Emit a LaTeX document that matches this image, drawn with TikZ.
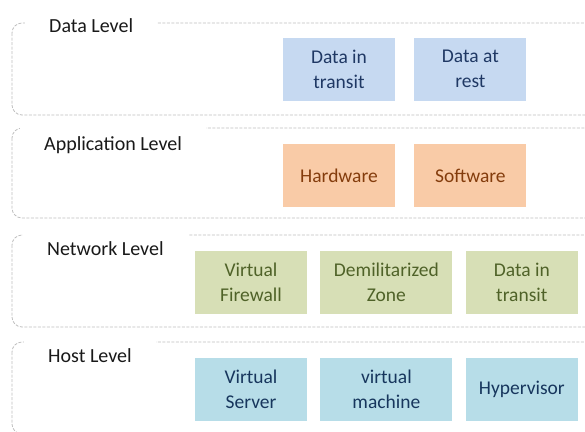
\documentclass[tikz,border=0pt]{standalone}
\usepackage{fontspec}
\setmainfont{Carlito}
\usepackage{xcolor}
\usetikzlibrary{positioning}

\definecolor{datafill}{HTML}{C6D9F1}
\definecolor{datatext}{HTML}{1F3864}
\definecolor{appfill}{HTML}{F9CBA7}
\definecolor{apptext}{HTML}{843C0C}
\definecolor{netfill}{HTML}{D7DFB6}
\definecolor{nettext}{HTML}{4F6228}
\definecolor{hostfill}{HTML}{B7DDE8}
\definecolor{hosttext}{HTML}{17365D}

\begin{document}
\begin{tikzpicture}[
    x=1pt, y=-1pt,
    panel/.style={draw=black!25, dashed, dash pattern=on 3pt off 1.5pt, line width=0.8pt, rounded corners=10pt},
    level/.style={anchor=base west, fill=white, inner xsep=24pt, inner ysep=12pt, font=\fontsize{20}{24}\selectfont, text=black!90},
    box/.style={minimum width=112pt, minimum height=63pt, align=center, inner sep=3pt, font=\fontsize{19.5}{25}\selectfont},
    databox/.style={box, fill=datafill, text=datatext},
    appbox/.style={box, fill=appfill, text=apptext},
    netbox/.style={box, fill=netfill, text=nettext},
    hostbox/.style={box, fill=hostfill, text=hosttext},
]
\clip (0,0) rectangle (585,431);

% Panels
\draw[panel] (12,23) rectangle (600,115);
\draw[panel] (12,128) rectangle (600,218);
\draw[panel] (12,235) rectangle (600,327);
\draw[panel] (12,342) rectangle (600,434);

% Level labels
\node[level] (datalevel) at (25,32) {Data Level};
\node[level] (applevel) at (20,150) {Application Level};
\node[level] (netlevel) at (23,255) {Network Level};
\node[level] (hostlevel) at (24,362) {Host Level};

% Data level
\node[databox] (transit) at (339,69) {Data in\\transit};
\node[databox, right=19pt of transit] (rest) {Data at\\rest};

% Application level
\node[appbox] (hardware) at (339,175.5) {Hardware};
\node[appbox, right=19pt of hardware] (software) {Software};

% Network level
\node[netbox] (firewall) at (251,282) {Virtual\\Firewall};
\node[netbox, minimum width=132pt, right=13pt of firewall] (dmz) {Demilitarized\\Zone};
\node[netbox, right=13pt of dmz] (nettransit) {Data in\\transit};

% Host level
\node[hostbox, below=44pt of firewall] (server) {Virtual\\Server};
\node[hostbox, minimum width=132pt, right=13pt of server] (vm) {virtual\\machine};
\node[hostbox, right=13pt of vm] (hypervisor) {Hypervisor};

\end{tikzpicture}
\end{document}
